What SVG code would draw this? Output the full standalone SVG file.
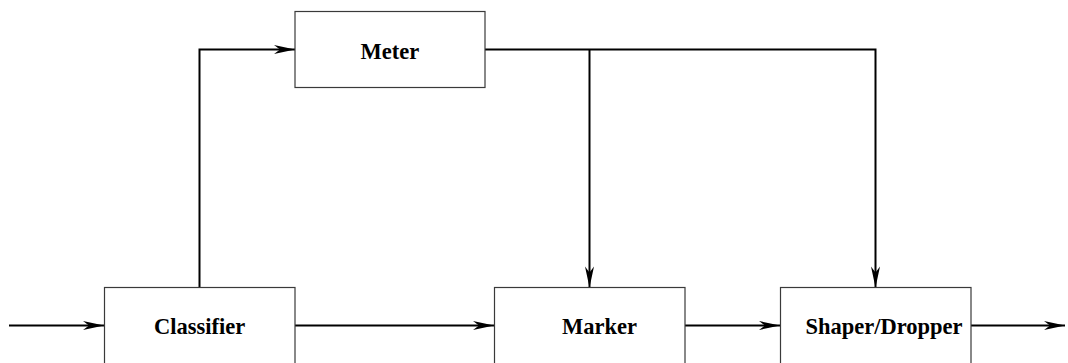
<svg xmlns="http://www.w3.org/2000/svg" width="1068" height="363" viewBox="0 0 1068 363">
  <defs>
    <style>
      .box { fill: #ffffff; stroke: #3a3a3a; stroke-width: 1.2; }
      .lbl { font-family: "Liberation Serif", "Times New Roman", serif; font-weight: bold; font-size: 22.5px; fill: #000; }
      .wire { fill: none; stroke: #000; stroke-width: 2; }
    </style>
    <marker id="arrow" markerUnits="userSpaceOnUse" markerWidth="24" markerHeight="12" viewBox="-22 -6 24 12" refX="0" refY="0" orient="auto">
      <path d="M0,0 L-21,-4.5 L-15,0 L-21,4.5 Z" fill="#000"/>
    </marker>
  </defs>

  <g id="connectors">
    <path class="wire" d="M9,325.5 H104" marker-end="url(#arrow)"/>
    <path class="wire" d="M199.5,287.5 V49.5 H295" marker-end="url(#arrow)"/>
    <path class="wire" d="M295,325.5 H494" marker-end="url(#arrow)"/>
    <path class="wire" d="M485,49.5 H875.5 V287.5" marker-end="url(#arrow)"/>
    <path class="wire" d="M589.5,49.5 V287.5" marker-end="url(#arrow)"/>
    <path class="wire" d="M685,325.5 H780" marker-end="url(#arrow)"/>
    <path class="wire" d="M971,325.5 H1065" marker-end="url(#arrow)"/>
  </g>

  <g id="meter">
    <rect class="box" x="295" y="11.5" width="190" height="76"/>
    <text class="lbl" x="360.5" y="59">Meter</text>
  </g>

  <g id="classifier">
    <rect class="box" x="104.5" y="287.5" width="190.5" height="90"/>
    <text class="lbl" x="154" y="334">Classifier</text>
  </g>

  <g id="marker">
    <rect class="box" x="494.5" y="287.5" width="190.5" height="90"/>
    <text class="lbl" x="562" y="334">Marker</text>
  </g>

  <g id="shaper-dropper">
    <rect class="box" x="780.5" y="287.5" width="190.5" height="90"/>
    <text class="lbl" x="805.5" y="334">Shaper/Dropper</text>
  </g>
</svg>
